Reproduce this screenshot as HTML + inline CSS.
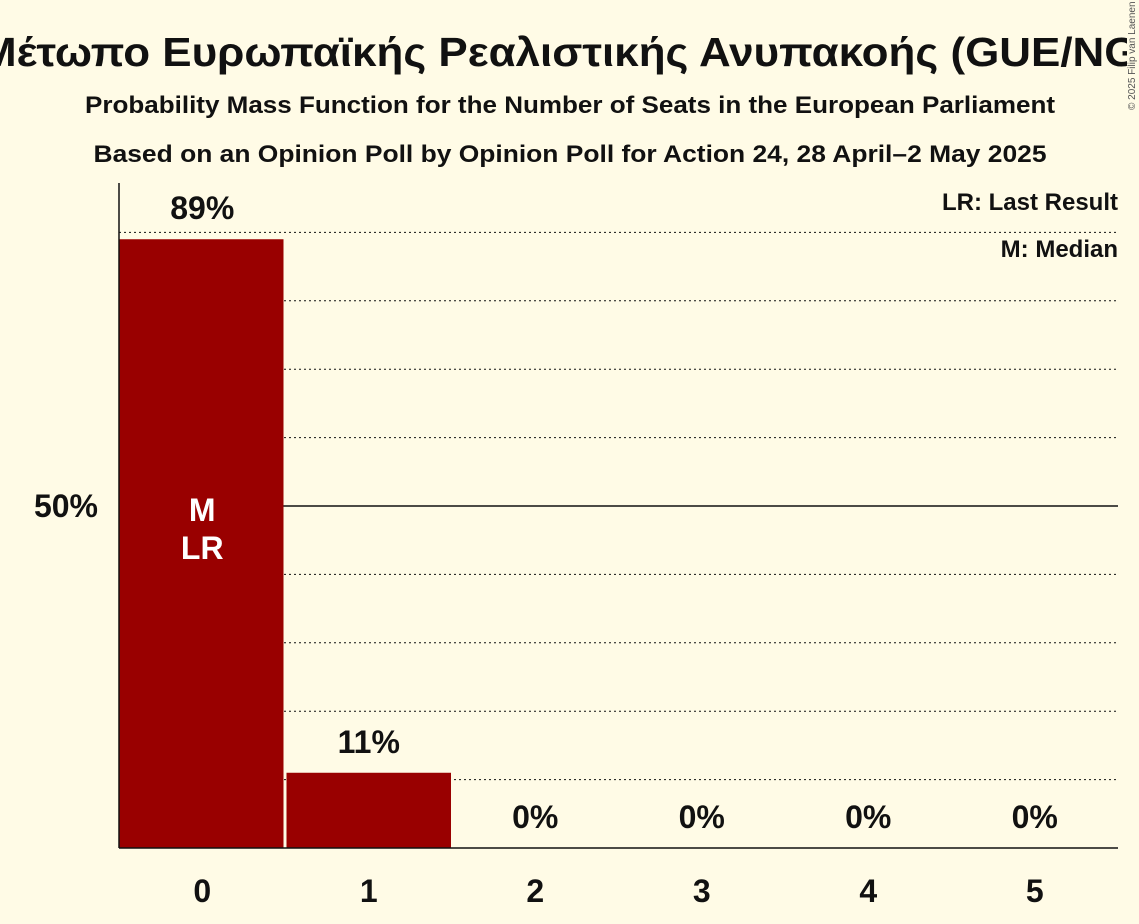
<!DOCTYPE html>
<html><head><meta charset="utf-8"><style>
html,body{margin:0;padding:0;background:#fffbe6;}
svg{display:block;font-family:"Liberation Sans","DejaVu Sans",sans-serif;}
</style></head><body>
<svg id="chart" width="1139" height="924" viewBox="0 0 1139 924">
<rect width="1139" height="924" fill="#fffbe6"/>
<text x="580" y="66" text-anchor="middle" font-size="41" font-weight="bold" fill="#111" textLength="1200" lengthAdjust="spacingAndGlyphs">Μέτωπο Ευρωπαϊκής Ρεαλιστικής Ανυπακοής (GUE/NGL)</text>
<text x="570" y="113" text-anchor="middle" font-size="24" font-weight="bold" fill="#111" textLength="970" lengthAdjust="spacingAndGlyphs">Probability Mass Function for the Number of Seats in the European Parliament</text>
<text x="570" y="162" text-anchor="middle" font-size="24" font-weight="bold" fill="#111" textLength="953" lengthAdjust="spacingAndGlyphs">Based on an Opinion Poll by Opinion Poll for Action 24, 28 April–2 May 2025</text>
<rect x="1127" y="0" width="12" height="112" fill="#fffbe6"/>
<text x="1135" y="110" font-size="10" fill="#555" transform="rotate(-90 1135 110)">© 2025 Filip van Laenen</text>
<g id="grid"></g>
<g id="bars"></g>
<g id="labels"></g>
<line x1="119" y1="183" x2="119" y2="848" stroke="#111" stroke-width="1.5"/>
<line x1="119" y1="848" x2="1118" y2="848" stroke="#111" stroke-width="1.5"/>
<text x="1118" y="210" text-anchor="end" font-size="24" font-weight="bold" fill="#111">LR: Last Result</text>
<text x="1118" y="257" text-anchor="end" font-size="24" font-weight="bold" fill="#111">M: Median</text>
</svg>
<script>
const seats = [0, 1, 2, 3, 4, 5];
const probs = [89, 11, 0, 0, 0, 0];
const probLabels = ["89%", "11%", "0%", "0%", "0%", "0%"];
const gridTicks = [10, 20, 30, 40, 60, 70, 80, 90];
const yTickLabels = ["50%"];
const yTickValues = [50];
const medianSeat = 0;
const lastResultSeat = 0;

const NS = "http://www.w3.org/2000/svg";
const x0 = 119, x1 = 1118, yBase = 848, yTop = 164;
const step = (x1 - x0) / seats.length;
const y = v => yBase - (yBase - yTop) * v / 100;
const xc = i => x0 + step * (i + 0.5);
function mk(tag, attrs, parent, txt) {
  const e = document.createElementNS(NS, tag);
  for (const k in attrs) e.setAttribute(k, attrs[k]);
  if (txt !== undefined) e.textContent = txt;
  parent.appendChild(e);
  return e;
}
const grid = document.getElementById('grid');
gridTicks.forEach(t => {
  const l = mk('line', {x1: x0, x2: x1, y1: y(t), y2: y(t), stroke: '#111', 'stroke-width': 1, 'stroke-dasharray': '2,3'}, grid);
  
  
});
yTickValues.forEach((t, i) => {
  const l = mk('line', {x1: x0, x2: x1, y1: y(t), y2: y(t), stroke: '#111', 'stroke-width': 1.5}, grid);
  
  
  const tx = mk('text', {x: 98, y: y(t) + 11, 'text-anchor': 'end', 'font-size': 32, 'font-weight': 'bold', fill: '#111'}, grid, yTickLabels[i]);
  
  
});
const bars = document.getElementById('bars');
const labels = document.getElementById('labels');
seats.forEach((s, i) => {
  const p = probs[i];
  if (p > 0) {
    const r = mk('rect', {x: x0 + step * i + (i ? 1 : 0), y: y(p), width: step - 2, height: yBase - y(p), fill: '#990000'}, bars);
    
    
  }
  const ly = p > 0 ? y(p) - 20 : yBase - 20;
  const t = mk('text', {x: xc(i), y: ly, 'text-anchor': 'middle', 'font-size': 32, 'font-weight': 'bold', fill: '#111'}, labels, probLabels[i]);
  
  
  const xl = mk('text', {x: xc(i), y: 902, 'text-anchor': 'middle', 'font-size': 32, 'font-weight': 'bold', fill: '#111'}, labels, String(s));
  
  
});
const mi = seats.indexOf(medianSeat);
const m = mk('text', {x: xc(mi), y: 521, 'text-anchor': 'middle', 'font-size': 32, 'font-weight': 'bold', fill: '#fff'}, labels, 'M');


const li = seats.indexOf(lastResultSeat);
const lr = mk('text', {x: xc(li), y: 559, 'text-anchor': 'middle', 'font-size': 32, 'font-weight': 'bold', fill: '#fff'}, labels, 'LR');


</script>
</body></html>
